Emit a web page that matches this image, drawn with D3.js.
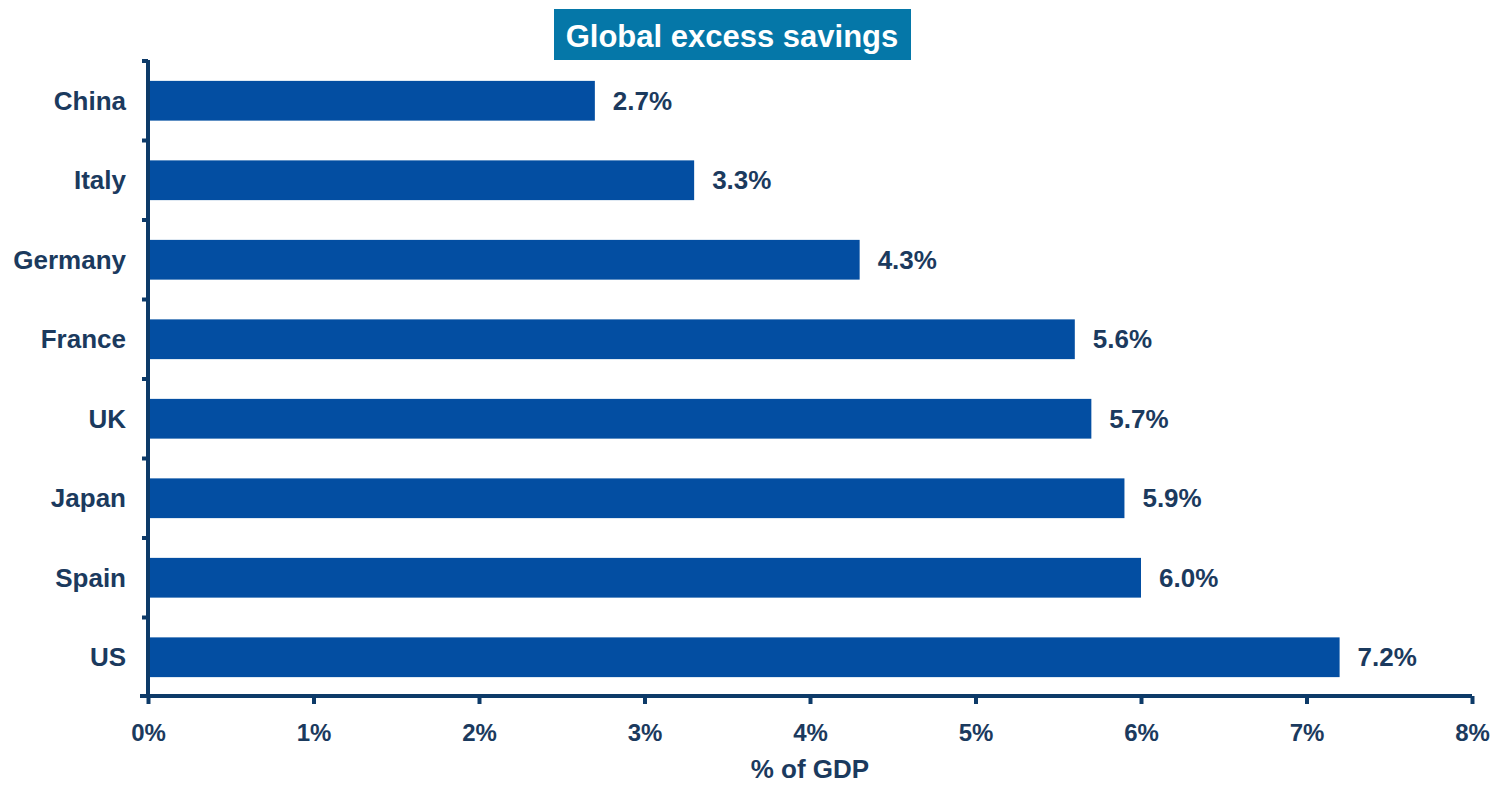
<!DOCTYPE html>
<html>
<head>
<meta charset="utf-8">
<script src="https://cdn.jsdelivr.net/npm/d3@7"></script>
<style>
  body { margin: 0; background: #fff; }
  text { font-family: "Liberation Sans", Arial, sans-serif; font-weight: bold; }
</style>
</head>
<body>
<div id="chart"></div>
<script>
var countries = ["China", "Italy", "Germany", "France", "UK", "Japan", "Spain", "US"];
var values = [2.7, 3.3, 4.3, 5.6, 5.7, 5.9, 6.0, 7.2];
var xTicks = [0, 1, 2, 3, 4, 5, 6, 7, 8];

var W = 1499, H = 786;
var margin = {top: 60, right: 27, bottom: 90, left: 148};
var width = W - margin.left - margin.right,
    height = H - margin.top - margin.bottom;

var navy = "#0d3a68", barColor = "#034ea2", textColor = "#1b3a5e";

var svg = d3.select("#chart").append("svg")
    .attr("width", W)
    .attr("height", H);

// title box
svg.append("rect")
    .attr("x", 554).attr("y", 9)
    .attr("width", 357).attr("height", 51)
    .attr("fill", "#0577a8");
svg.append("text")
    .attr("x", 732).attr("y", 47)
    .attr("text-anchor", "middle")
    .attr("fill", "#fff")
    .style("font-size", "31px")
    .text("Global excess savings");

var g = svg.append("g")
    .attr("transform", "translate(" + margin.left + "," + margin.top + ")");

var x = d3.scaleLinear().domain([0, 8]).range([0, width]);
var y = d3.scaleBand().domain(countries).range([0, height]).paddingInner(0.5).paddingOuter(0.25);

// bars
g.selectAll(".bar")
    .data(values)
    .enter().append("rect")
    .attr("class", "bar")
    .attr("x", x(0) + 2)
    .attr("y", function(d, i) { return y(countries[i]) + 1; })
    .attr("width", function(d) { return x(d) - x(0) - 2; })
    .attr("height", y.bandwidth())
    .attr("fill", barColor);

// value labels
g.selectAll(".val")
    .data(values)
    .enter().append("text")
    .attr("class", "val")
    .attr("x", function(d) { return x(d) + 18; })
    .attr("y", function(d, i) { return y(countries[i]) + y.bandwidth() / 2 + 10; })
    .attr("fill", textColor)
    .style("font-size", "26px")
    .text(function(d) { return d.toFixed(1) + "%"; });

// y axis: line + ticks at band boundaries
var step = height / countries.length;
g.append("line")
    .attr("x1", 0).attr("x2", 0)
    .attr("y1", 0).attr("y2", height)
    .attr("stroke", navy).attr("stroke-width", 4);
d3.range(countries.length).forEach(function(i) {
    g.append("line")
        .attr("x1", -6).attr("x2", 0)
        .attr("y1", i * step + 1).attr("y2", i * step + 1)
        .attr("stroke", navy).attr("stroke-width", 4);
});
g.selectAll(".cat")
    .data(countries)
    .enter().append("text")
    .attr("class", "cat")
    .attr("x", -22)
    .attr("y", function(d) { return y(d) + y.bandwidth() / 2 + 10; })
    .attr("text-anchor", "end")
    .attr("fill", textColor)
    .style("font-size", "26px")
    .text(function(d) { return d; });

// x axis
var xAxis = g.append("g")
    .attr("transform", "translate(0," + height + ")")
    .call(d3.axisBottom(x).tickValues(xTicks).tickSize(8).tickPadding(20)
        .tickFormat(function(d) { return d + "%"; }));
xAxis.select(".domain").attr("stroke", navy).attr("stroke-width", 4)
    .attr("d", "M-8,0H" + width);
xAxis.selectAll(".tick line").attr("stroke", navy).attr("stroke-width", 4);
xAxis.selectAll(".tick text")
    .attr("fill", textColor)
    .style("font-size", "24px")
    .style("font-family", "Liberation Sans, Arial, sans-serif")
    .style("font-weight", "bold");

svg.append("text")
    .attr("x", 810).attr("y", 778)
    .attr("text-anchor", "middle")
    .attr("fill", textColor)
    .style("font-size", "26px")
    .text("% of GDP");
</script>
</body>
</html>
